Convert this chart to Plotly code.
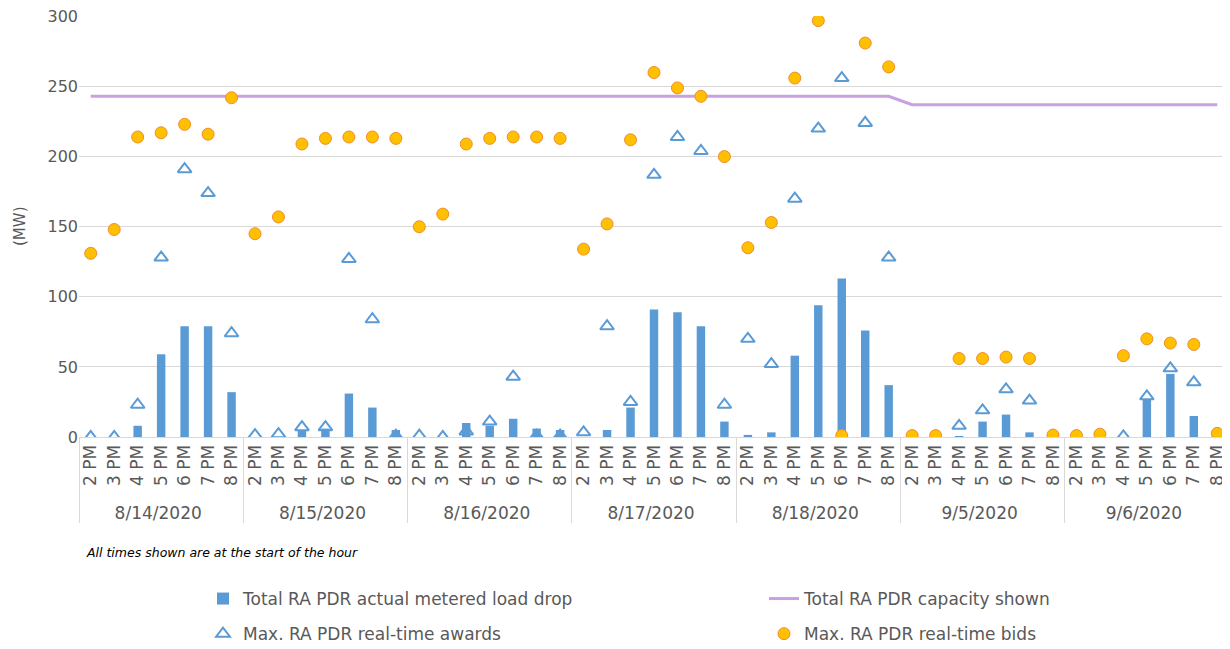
import plotly.graph_objects as go

dates = ["8/14/2020", "8/15/2020", "8/16/2020", "8/17/2020", "8/18/2020", "9/5/2020", "9/6/2020"]
hours = ["2 PM", "3 PM", "4 PM", "5 PM", "6 PM", "7 PM", "8 PM"]
y_ticks = [0, 50, 100, 150, 200, 250, 300]

load_drop = [
    0, 0, 8, 59, 79, 79, 32,
    0, 0, 5, 6, 31, 21, 5,
    0, 0, 10, 8, 13, 6, 5,
    0, 5, 21, 91, 89, 79, 11,
    1.5, 3.3, 58, 94, 113, 76, 37,
    0, 0, 0.5, 11, 16, 3.3, 0,
    0, 0, 0, 27, 45, 15, 0,
]
capacity = [243] * 35 + [237] * 14
awards = [
    0, 0, 23, 128, 191, 174, 74,
    1.4, 2, 7, 7, 127, 84, 1,
    1, 0, 4, 11, 43, 1, 1,
    3.3, 79, 25, 187, 214, 204, 23,
    70, 52, 170, 220, 256, 224, 128,
    0, 0, 8, 19, 34, 26, 0,
    0, 0, 0.5, 29, 49, 39, 0,
]
bids = [
    131, 148, 214, 217, 223, 216, 242,
    145, 157, 209, 213, 214, 214, 213,
    150, 159, 209, 213, 214, 214, 213,
    134, 152, 212, 260, 249, 243, 200,
    135, 153, 256, 297, 1, 281, 264,
    1, 1, 56, 56, 57, 56, 1.4,
    1, 2, 58, 70, 67, 66, 2.6,
]

x_outer = [d for d in dates for _ in hours]
x_inner = [h for _ in dates for h in hours]
x = [x_outer, x_inner]
n_cat = len(x_inner)

FONT = "DejaVu Sans"
GREY = "#595959"
# page body has an 8px margin, so the figure is drawn 8px in from the window edge
W, H = 1222, 641
L, T, PW, PH = 71, 8, 1150, 421

fig = go.Figure()
fig.add_trace(go.Bar(x=x, y=load_drop, name="Total RA PDR actual metered load drop",
                     legend="legend", legendgroup="a",
                     marker=dict(color="#5B9BD5", line=dict(width=0))))
fig.add_trace(go.Scatter(x=x, y=capacity, name="Total RA PDR capacity shown", mode="lines",
                         legend="legend2", legendgroup="b",
                         line=dict(color="#C9A0E0", width=3)))
fig.add_trace(go.Scatter(x=x, y=awards, name="Max. RA PDR real-time awards", mode="markers",
                         legend="legend", legendgroup="c",
                         marker=dict(symbol="triangle-up-open", size=12, color="#5B9BD5",
                                     line=dict(width=2, color="#5B9BD5"))))
fig.add_trace(go.Scatter(x=x, y=bids, name="Max. RA PDR real-time bids", mode="markers",
                         legend="legend2", legendgroup="d",
                         marker=dict(symbol="circle", size=12, color="#FFC000",
                                     line=dict(width=1, color="#F08C30"))))

leg_common = dict(orientation="v", yanchor="top", xanchor="left", xref="container",
                  yref="container", font=dict(size=17, color=GREY),
                  itemwidth=30, tracegroupgap=10, bgcolor="rgba(0,0,0,0)")

fig.update_layout(
    width=W, height=H,
    margin=dict(l=L, r=W - L - PW, t=T, b=H - T - PH, autoexpand=False),
    paper_bgcolor="white", plot_bgcolor="white",
    font=dict(family=FONT, color=GREY, size=15),
    bargap=0.64,
    showlegend=True,
    legend=dict(x=195 / W, y=1 - 573 / H, **leg_common),
    legend2=dict(x=756 / W, y=1 - 573 / H, **leg_common),
    xaxis=dict(type="multicategory", tickangle=-90, tickfont=dict(size=17, color=GREY),
               range=[-0.5, n_cat - 0.5],
               showdividers=True, dividercolor="#D9D9D9", dividerwidth=1,
               showline=True, linecolor="#D9D9D9", linewidth=1,
               ticks="outside", ticklen=9, tickcolor="rgba(0,0,0,0)",
               showgrid=False, automargin=False),
    yaxis=dict(range=[0, 300.3], tickmode="array", tickvals=y_ticks,
               ticklabeloverflow="allow",
               showgrid=True, gridcolor="#D9D9D9", gridwidth=1,
               zeroline=False, tickfont=dict(size=16, color=GREY), automargin=False,
               ticks="", ticklen=0),
    annotations=[
        dict(text="<i>All times shown are at the start of the hour</i>", xref="paper",
             yref="paper", x=(84 - 79) / PW, y=-(552 - 437) / PH,
             xanchor="left", yanchor="middle",
             showarrow=False, font=dict(size=12.5, color="#000000")),
        dict(text="(MW)", xref="paper", yref="paper", x=-(79 - 20) / PW, y=(437 - 227) / PH,
             xanchor="center", yanchor="middle", textangle=-90, showarrow=False,
             font=dict(size=15, color=GREY)),
    ],
)

fig.write_html("out.html")
